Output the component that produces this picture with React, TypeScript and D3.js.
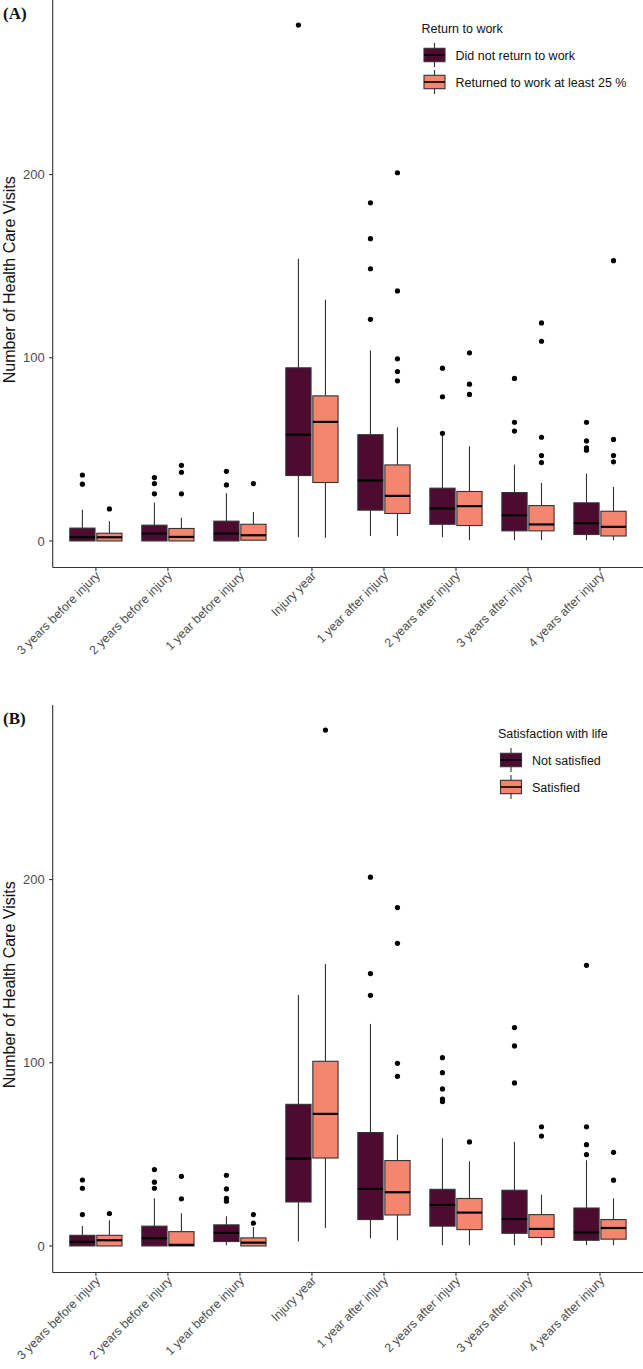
import React from "react";
import * as d3 from "d3";

// Time points on the x axis
const periods = [
  "3 years before injury",
  "2 years before injury",
  "1 year before injury",
  "Injury year",
  "1 year after injury",
  "2 years after injury",
  "3 years after injury",
  "4 years after injury",
];

const yTicks = [0, 100, 200];

// Box statistics per period: [lower whisker, Q1, median, Q3, upper whisker]
type Stats = [number, number, number, number, number];

// (A) Return to work
const notReturnedStats: Stats[] = [
  [0, 0, 2, 7, 17],
  [0, 0, 4, 8.6, 21],
  [0, 0, 4, 10.8, 26],
  [2, 35.7, 58, 94.5, 154],
  [2.7, 16.8, 33, 58, 104],
  [2, 9.1, 17.7, 28.8, 58],
  [0.4, 5.5, 14, 26.4, 41.7],
  [0.4, 3.5, 9.7, 20.8, 36.8],
];
const notReturnedOutliers: number[][] = [
  [36, 31],
  [34.6, 31.3, 25.7],
  [38, 30.6],
  [281.6],
  [184.6, 165, 148.6, 121],
  [94.3, 78.7, 58.8],
  [88.7, 64.8, 60],
  [64.8, 54.6, 50.8, 49.5],
];
const returnedStats: Stats[] = [
  [0, 0, 2, 4.2, 10.8],
  [0, 0, 2.2, 6.8, 12.6],
  [0.4, 0.4, 3.1, 9.1, 15.8],
  [1.8, 31.9, 65, 79.2, 131.6],
  [2.7, 15, 24.6, 41.5, 62],
  [0.4, 8.4, 19, 27, 51.7],
  [0.4, 5.5, 9, 19.3, 31.7],
  [0.4, 2.7, 7.7, 16.2, 29.5],
];
const returnedOutliers: number[][] = [
  [17.5],
  [41.3, 37.5, 25.7],
  [31.3],
  [],
  [201, 136.5, 99.4, 92.5, 87.4],
  [102.7, 85.6, 80],
  [119, 109, 56.6, 46.6, 42.8],
  [153, 55.4, 46.6, 43.2],
];

// (B) Satisfaction with life
const notSatisfiedStats: Stats[] = [
  [0, 0, 2.2, 5.8, 10.9],
  [0, 0, 4.2, 10.8, 26],
  [0.4, 2.4, 7.1, 11.5, 16.2],
  [2.4, 24, 47.7, 77.3, 137],
  [4.2, 14.4, 31.1, 61.9, 121.2],
  [0.4, 10.8, 22.4, 30.9, 58.8],
  [0.4, 6.9, 14.7, 30.4, 56.8],
  [0.4, 3.1, 7.3, 20.7, 46.8],
];
const notSatisfiedOutliers: number[][] = [
  [36, 31.5, 17.1],
  [41.7, 34.8, 31.5],
  [38.6, 31.1, 26, 24.4],
  [],
  [201.3, 148.7, 136.8],
  [102.8, 94.6, 85.7, 80.2, 78.8],
  [119.2, 109.2, 89],
  [153.2, 65, 55.3, 49.9],
];
const satisfiedStats: Stats[] = [
  [0, 0, 3.1, 5.8, 14],
  [0, 0, 0.6, 7.8, 17.8],
  [0, 0, 1.8, 4.4, 10.4],
  [9.8, 48, 72.1, 100.8, 153.9],
  [3.1, 16.9, 29.3, 46.6, 60.8],
  [0.4, 8.9, 18.2, 25.9, 46.2],
  [0.4, 4.6, 9.3, 17.1, 28],
  [0.4, 3.7, 9.8, 14.4, 26],
];
const satisfiedOutliers: number[][] = [
  [17.7],
  [38, 25.7],
  [17.1, 12.4],
  [281.6],
  [184.7, 165.2, 99.7, 92.6],
  [56.8],
  [65, 60],
  [51.1, 35.9],
];

const DARK = "#4D0B32";
const LIGHT = "#F4866F";
const SANS = "'Liberation Sans', Arial, sans-serif";

const W = 643;
const PANEL_H = 705;
const plotLeft = 52.7;
const plotRight = 643.2;
const plotTop = 0;
const plotBottom = 567.5;

const x = d3.scaleLinear().domain([0.4, periods.length + 0.6]).range([plotLeft, plotRight]);
const y = d3.scaleLinear().domain([-14.5, 295.3]).range([plotBottom, plotTop]);
const step = x(2) - x(1);
const boxW = step * 0.35;
const dodge = step * 0.1875;

type Series = { name: string; color: string; stats: Stats[]; outliers: number[][] };

function Box({ cx, s, color }: { cx: number; s: Stats; color: string }) {
  const [lo, q1, med, q3, hi] = s;
  return (
    <g>
      <line x1={cx} x2={cx} y1={y(q3)} y2={y(hi)} stroke="#333" strokeWidth={1.1} />
      <line x1={cx} x2={cx} y1={y(q1)} y2={y(lo)} stroke="#333" strokeWidth={1.1} />
      <rect
        x={cx - boxW / 2}
        y={y(q3)}
        width={boxW}
        height={Math.max(0.5, y(q1) - y(q3))}
        fill={color}
        stroke="#333"
        strokeWidth={1.1}
      />
      <line x1={cx - boxW / 2} x2={cx + boxW / 2} y1={y(med)} y2={y(med)} stroke="#000" strokeWidth={2.2} />
    </g>
  );
}

function Panel({
  offsetY,
  tag,
  legendTitle,
  legendX,
  series,
}: {
  offsetY: number;
  tag: string;
  legendTitle: string;
  legendX: number;
  series: Series[];
}) {
  return (
    <g transform={`translate(0,${offsetY})`}>
      <text
        x={3}
        y={19}
        fontFamily="'Liberation Serif', 'Times New Roman', serif"
        fontSize={17}
        fontWeight={600}
        fill="#111"
      >
        {tag}
      </text>

      {/* boxes */}
      {periods.map((p, i) =>
        series.map((sr, k) => {
          const cx = x(i + 1) + (k === 0 ? -dodge : dodge);
          return (
            <g key={p + k}>
              <Box cx={cx} s={sr.stats[i]} color={sr.color} />
              {sr.outliers[i].map((v, j) => (
                <circle key={j} cx={cx} cy={y(v)} r={2.6} fill="#000" />
              ))}
            </g>
          );
        })
      )}

      {/* axes */}
      <line x1={plotLeft} x2={plotLeft} y1={plotTop} y2={plotBottom} stroke="#333" strokeWidth={1.1} />
      <line x1={plotLeft} x2={plotRight} y1={plotBottom} y2={plotBottom} stroke="#333" strokeWidth={1.1} />
      {yTicks.map((t) => (
        <g key={t}>
          <line x1={plotLeft - 3.6} x2={plotLeft} y1={y(t)} y2={y(t)} stroke="#333" strokeWidth={1.1} />
          <text
            x={plotLeft - 8}
            y={y(t)}
            dy="0.36em"
            textAnchor="end"
            fontFamily={SANS}
            fontSize={13}
            fill="#4d4d4d"
          >
            {t}
          </text>
        </g>
      ))}
      {periods.map((p, i) => (
        <g key={p}>
          <line x1={x(i + 1)} x2={x(i + 1)} y1={plotBottom} y2={plotBottom + 3.6} stroke="#333" strokeWidth={1.1} />
          <text
            transform={`translate(${x(i + 1) + 5},${plotBottom + 9}) rotate(-45)`}
            textAnchor="end"
            fontFamily={SANS}
            fontSize={12.3}
            fill="#4d4d4d"
          >
            {p}
          </text>
        </g>
      ))}
      <text
        transform={`translate(15,${(plotTop + plotBottom) / 2 - 4}) rotate(-90)`}
        textAnchor="middle"
        fontFamily={SANS}
        fontSize={16}
        fill="#111"
      >
        Number of Health Care Visits
      </text>

      {/* legend */}
      <g transform={`translate(${legendX},0)`}>
        <text x={0} y={28.3} dy="0.36em" fontFamily={SANS} fontSize={12.5} fill="#111">
          {legendTitle}
        </text>
        {series.map((sr, k) => {
          const cy = 55 + k * 27;
          return (
            <g key={sr.name}>
              <line x1={13} x2={13} y1={cy - 12} y2={cy + 12} stroke="#333" strokeWidth={1.1} />
              <rect x={2.5} y={cy - 6.7} width={21} height={13.4} fill={sr.color} stroke="#333" strokeWidth={1.1} />
              <line x1={2.5} x2={23.5} y1={cy} y2={cy} stroke="#000" strokeWidth={1.6} />
              <text x={34} y={cy} dy="0.36em" fontFamily={SANS} fontSize={12.5} fill="#111">
                {sr.name}
              </text>
            </g>
          );
        })}
      </g>
    </g>
  );
}

export default function App() {
  return (
    <svg width={W} height={1369} style={{ display: "block", position: "absolute", left: 0, top: 0, background: "#fff" }}>
      <rect width={W} height={1369} fill="#fff" />
      <Panel
        offsetY={0}
        tag="(A)"
        legendTitle="Return to work"
        legendX={421.5}
        series={[
          { name: "Did not return to work", color: DARK, stats: notReturnedStats, outliers: notReturnedOutliers },
          { name: "Returned to work at least 25 %", color: LIGHT, stats: returnedStats, outliers: returnedOutliers },
        ]}
      />
      <Panel
        offsetY={PANEL_H}
        tag="(B)"
        legendTitle="Satisfaction with life"
        legendX={498}
        series={[
          { name: "Not satisfied", color: DARK, stats: notSatisfiedStats, outliers: notSatisfiedOutliers },
          { name: "Satisfied", color: LIGHT, stats: satisfiedStats, outliers: satisfiedOutliers },
        ]}
      />
    </svg>
  );
}
